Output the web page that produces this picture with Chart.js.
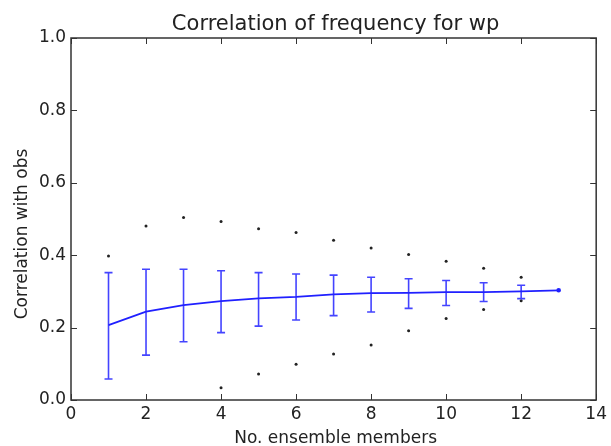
<!DOCTYPE html>
<html>
<head>
<meta charset="utf-8">
<script src="https://cdn.jsdelivr.net/npm/chart.js@4/dist/chart.umd.min.js"></script>
<style>
  html, body { margin: 0; padding: 0; background: #fff; }
  #wrap { width: 611px; height: 446px; }
</style>
</head>
<body>
<div id="wrap"><canvas id="chart" width="611" height="446"></canvas></div>
<script>
// ensemble size
const members = [1, 2, 3, 4, 5, 6, 7, 8, 9, 10, 11, 12, 13];
// mean correlation
const meanCorr = [0.207, 0.244, 0.262, 0.273, 0.281, 0.285, 0.292, 0.295, 0.296, 0.298, 0.298, 0.300, 0.303];
// error bar ends (members 1..12)
const errHigh = [0.352, 0.361, 0.361, 0.357, 0.352, 0.348, 0.345, 0.339, 0.335, 0.330, 0.324, 0.317];
const errLow = [0.058, 0.124, 0.161, 0.186, 0.204, 0.221, 0.233, 0.243, 0.253, 0.261, 0.272, 0.280];
// max / min outliers (members 1..12), null where off the axis
const maxCorr = [0.398, 0.481, 0.504, 0.493, 0.473, 0.463, 0.441, 0.420, 0.402, 0.383, 0.364, 0.339];
const minCorr = [null, null, null, 0.034, 0.072, 0.099, 0.127, 0.152, 0.191, 0.225, 0.250, 0.274];

const xTicks = [0, 2, 4, 6, 8, 10, 12, 14];
const yTicks = [0.0, 0.2, 0.4, 0.6, 0.8, 1.0];

const FONT = 'DejaVu Sans';
const INK = '#222';

const pts = (ys) => ys.map((y, i) => ({ x: members[i], y: y })).filter(p => p.y !== null);

// draws the error bars, frame, inward ticks and the texts
const extras = {
    id: 'extras',
    afterDatasetsDraw(chart) {
        const ctx = chart.ctx;
        const xs = chart.scales.x, ys = chart.scales.y;
        ctx.save();
        ctx.strokeStyle = 'rgba(35,35,255,0.85)';
        ctx.lineWidth = 1.6;
        errHigh.forEach((hi, i) => {
            const px = xs.getPixelForValue(members[i]);
            const top = ys.getPixelForValue(hi);
            const bot = ys.getPixelForValue(errLow[i]);
            ctx.beginPath();
            ctx.moveTo(px, top); ctx.lineTo(px, bot);
            ctx.moveTo(px - 4, top); ctx.lineTo(px + 4, top);
            ctx.moveTo(px - 4, bot); ctx.lineTo(px + 4, bot);
            ctx.stroke();
        });
        ctx.restore();
    },
    afterDraw(chart) {
        const ctx = chart.ctx;
        const a = chart.chartArea;
        const xs = chart.scales.x, ys = chart.scales.y;
        ctx.save();
        ctx.strokeStyle = '#333';
        ctx.lineWidth = 1.5;
        ctx.strokeRect(a.left, a.top, a.right - a.left, a.bottom - a.top);
        ctx.lineWidth = 1;
        ctx.beginPath();
        xTicks.forEach(v => {
            const px = Math.round(xs.getPixelForValue(v)) + 0.5;
            ctx.moveTo(px, a.bottom); ctx.lineTo(px, a.bottom - 6);
            ctx.moveTo(px, a.top); ctx.lineTo(px, a.top + 6);
        });
        yTicks.forEach(v => {
            const py = Math.round(ys.getPixelForValue(v)) + 0.5;
            ctx.moveTo(a.left, py); ctx.lineTo(a.left + 6, py);
            ctx.moveTo(a.right, py); ctx.lineTo(a.right - 6, py);
        });
        ctx.stroke();

        ctx.fillStyle = INK;
        ctx.textAlign = 'center';
        ctx.textBaseline = 'alphabetic';
        const cx = (a.left + a.right) / 2 + 2;
        ctx.font = '21px "' + FONT + '"';
        ctx.fillText('Correlation of frequency for wp', cx, 30);
        ctx.font = '17px "' + FONT + '"';
        ctx.fillText('No. ensemble members', cx, 443);
        ctx.translate(27, 234);
        ctx.rotate(-Math.PI / 2);
        ctx.fillText('Correlation with obs', 0, 0);
        ctx.restore();
    }
};

new Chart(document.getElementById('chart'), {
    type: 'scatter',
    data: {
        datasets: [
            {
                type: 'line',
                data: pts(meanCorr),
                borderColor: '#2020ff',
                backgroundColor: '#2020ff',
                borderWidth: 1.8,
                pointRadius: (c) => c.dataIndex === members.length - 1 ? 1.4 : 0,
                pointHoverRadius: 0,
                tension: 0,
                order: 1
            },
            {
                data: pts(maxCorr),
                backgroundColor: '#222',
                borderWidth: 0,
                pointRadius: 1.5,
                order: 2
            },
            {
                data: pts(minCorr),
                backgroundColor: '#222',
                borderWidth: 0,
                pointRadius: 1.5,
                order: 2
            }
        ]
    },
    options: {
        responsive: false,
        animation: false,
        layout: { padding: { top: 38, right: 13, left: 0, bottom: 0 } },
        plugins: {
            legend: { display: false },
            tooltip: { enabled: false },
            title: { display: false }
        },
        scales: {
            x: {
                type: 'linear',
                min: 0, max: 14,
                afterBuildTicks: (s) => { s.ticks = xTicks.map(v => ({ value: v })); },
                grid: { display: false, drawTicks: false },
                border: { display: false },
                ticks: { color: INK, font: { family: FONT, size: 17 }, padding: 4, maxRotation: 0 },
                afterFit: (s) => { s.height = 46; }
            },
            y: {
                min: 0, max: 1,
                afterBuildTicks: (s) => { s.ticks = yTicks.map(v => ({ value: v })); },
                grid: { display: false, drawTicks: false },
                border: { display: false },
                ticks: { color: INK, font: { family: FONT, size: 17 }, padding: 5, callback: (v) => v.toFixed(1) },
                afterFit: (s) => { s.width = 71; }
            }
        }
    },
    plugins: [extras]
});
</script>
</body>
</html>
